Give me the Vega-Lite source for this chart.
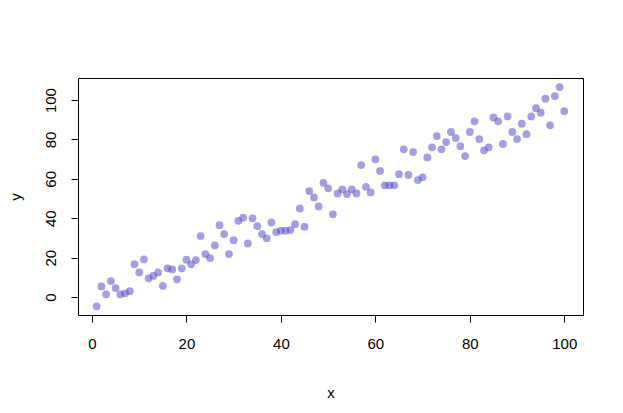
{
  "$schema": "https://vega.github.io/schema/vega-lite/v6.json",
  "width": 505,
  "height": 237,
  "autosize": "none",
  "padding": {"left": 78, "top": 78, "right": 40, "bottom": 98},
  "background": "white",
  "config": {
    "view": {"stroke": "black", "strokeWidth": 1},
    "axis": {
      "labelFont": "Liberation Sans",
      "titleFont": "Liberation Sans",
      "labelFontSize": 15,
      "titleFontSize": 15,
      "titleFontWeight": "normal",
      "labelColor": "black",
      "titleColor": "black",
      "tickColor": "black",
      "tickSize": 7,
      "domain": false,
      "grid": false
    }
  },
  "data": {
    "values": [
      {"x":1,"y":-4.7},{"x":2,"y":5.4},{"x":3,"y":1.4},{"x":4,"y":8.1},{"x":5,"y":4.6},
      {"x":6,"y":1.4},{"x":7,"y":1.9},{"x":8,"y":3.0},{"x":9,"y":16.7},{"x":10,"y":12.5},
      {"x":11,"y":19.1},{"x":12,"y":9.5},{"x":13,"y":10.7},{"x":14,"y":12.5},{"x":15,"y":5.7},
      {"x":16,"y":14.6},{"x":17,"y":14},{"x":18,"y":9},{"x":19,"y":14.6},{"x":20,"y":19},
      {"x":21,"y":16.6},{"x":22,"y":18.8},{"x":23,"y":31},{"x":24,"y":21.8},{"x":25,"y":19.8},
      {"x":26,"y":26.2},{"x":27,"y":36.5},{"x":28,"y":32},{"x":29,"y":21.8},{"x":30,"y":28.9},
      {"x":31,"y":38.7},{"x":32,"y":40.3},{"x":33,"y":27.2},{"x":34,"y":40},{"x":35,"y":36},
      {"x":36,"y":32},{"x":37,"y":29.8},{"x":38,"y":37.9},{"x":39,"y":33},{"x":40,"y":33.7},
      {"x":41,"y":33.7},{"x":42,"y":34},{"x":43,"y":37},{"x":44,"y":45},{"x":45,"y":35.7},
      {"x":46,"y":53.8},{"x":47,"y":50.6},{"x":48,"y":46},{"x":49,"y":58},{"x":50,"y":55.2},
      {"x":51,"y":42},{"x":52,"y":52.6},{"x":53,"y":54.7},{"x":54,"y":52.3},{"x":55,"y":54.7},
      {"x":56,"y":52.6},{"x":57,"y":67},{"x":58,"y":56},{"x":59,"y":53.1},{"x":60,"y":69.9},
      {"x":61,"y":64},{"x":62,"y":56.7},{"x":63,"y":56.7},{"x":64,"y":56.7},{"x":65,"y":62.4},
      {"x":66,"y":75},{"x":67,"y":62},{"x":68,"y":73.6},{"x":69,"y":59.4},{"x":70,"y":60.8},
      {"x":71,"y":70.9},{"x":72,"y":76},{"x":73,"y":81.7},{"x":74,"y":75},{"x":75,"y":78.7},
      {"x":76,"y":83.8},{"x":77,"y":80.7},{"x":78,"y":76.6},{"x":79,"y":71.6},{"x":80,"y":83.8},
      {"x":81,"y":89.2},{"x":82,"y":80.2},{"x":83,"y":74.5},{"x":84,"y":76},{"x":85,"y":91.2},
      {"x":86,"y":89.2},{"x":87,"y":77.7},{"x":88,"y":91.7},{"x":89,"y":83.8},{"x":90,"y":80.2},
      {"x":91,"y":88},{"x":92,"y":82.7},{"x":93,"y":91.7},{"x":94,"y":95.9},{"x":95,"y":93.6},
      {"x":96,"y":100.7},{"x":97,"y":87.2},{"x":98,"y":102},{"x":99,"y":106.6},{"x":100,"y":94.4}
    ]
  },
  "mark": {"type": "circle", "size": 60, "color": "#4a3fc4", "opacity": 0.5},
  "encoding": {
    "x": {
      "field": "x", "type": "quantitative",
      "scale": {"domain": [-2.96, 103.96], "nice": false, "zero": false},
      "axis": {"values": [0, 20, 40, 60, 80, 100], "labelPadding": 14, "titlePadding": 34, "labelFlush": false}
    },
    "y": {
      "field": "y", "type": "quantitative",
      "scale": {"domain": [-9.1, 111.2], "nice": false, "zero": false},
      "axis": {"values": [0, 20, 40, 60, 80, 100], "labelAngle": -90, "labelAlign": "center", "labelBaseline": "bottom", "labelPadding": 13, "titlePadding": 20, "labelFlush": false}
    }
  }
}
